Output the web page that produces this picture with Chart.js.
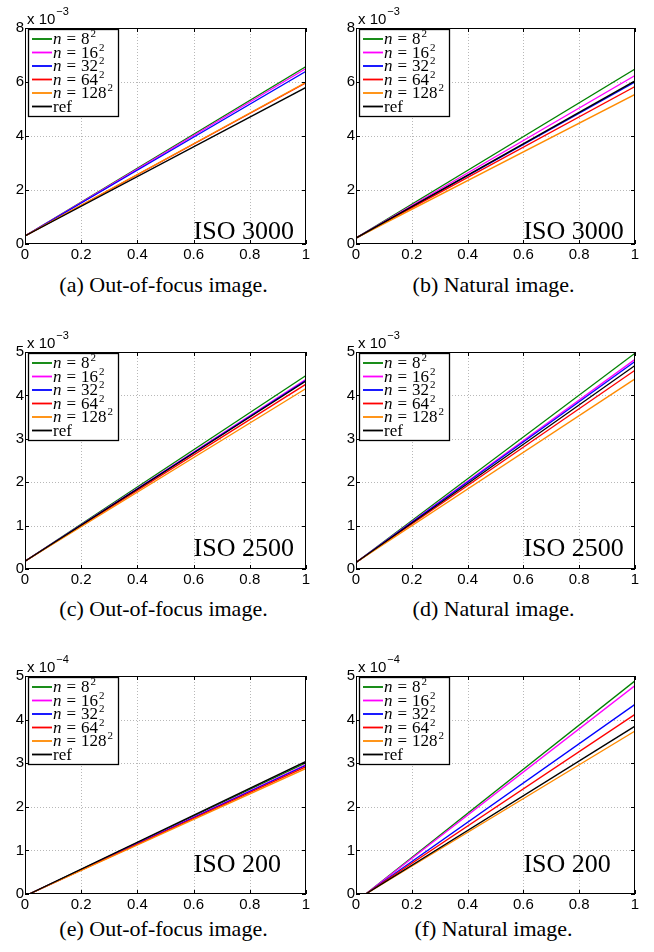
<!DOCTYPE html>
<html>
<head>
<meta charset="utf-8">
<script src="https://cdn.jsdelivr.net/npm/chart.js@4.4.1/dist/chart.umd.min.js"></script>
<style>
  body { margin: 0; background: #fff; }
  #page { position: relative; width: 654px; height: 952px; overflow: hidden; }
  .panel { position: absolute; }
  .cap { position: absolute; width: 300px; text-align: center; color: #000;
         font: 22px "Liberation Serif", "Times New Roman", serif; line-height: 22px; white-space: nowrap; }
</style>
</head>
<body>
<div id="page"></div>
<script>
// legend entries (n = k^2) and the reference curve
const blockSizes = ['8', '16', '32', '64', '128', 'ref'];
const lineColors = ['#008000', '#ff00ff', '#0000ff', '#ff0000', '#ff8a00', '#000000'];

const captions = ['(a) Out-of-focus image.', '(b) Natural image.',
                  '(c) Out-of-focus image.', '(d) Natural image.',
                  '(e) Out-of-focus image.', '(f) Natural image.'];
const isoText = ['ISO 3000', 'ISO 3000', 'ISO 2500', 'ISO 2500', 'ISO 200', 'ISO 200'];

// axes
const xTicks = [0, 0.2, 0.4, 0.6, 0.8, 1];
const yMax = [8, 8, 5, 5, 5, 5];
const yStep = [2, 2, 1, 1, 1, 1];
const yExp = [-3, -3, -3, -3, -4, -4];

// every curve starts at (startX, startY) and ends at x = 1 (values in units of 10^yExp)
const startX = [0, 0, 0, 0, 0.015, 0.035];
const startY = [0.30, 0.22, 0.18, 0.15, 0, 0];
const endA = [6.57, 6.50, 6.40, 5.97, 5.99, 5.80];
const endB = [6.48, 6.24, 6.00, 5.83, 5.54, 6.04];
const endC = [4.46, 4.37, 4.35, 4.26, 4.16, 4.33];
const endD = [4.97, 4.83, 4.78, 4.58, 4.38, 4.69];
const endE = [3.01, 2.97, 2.95, 2.92, 2.88, 3.04];
const endF = [4.89, 4.78, 4.35, 4.12, 3.74, 3.85];
const endVals = [endA, endB, endC, endD, endE, endF];

// where the "ISO" text sits, in data coordinates
const isoX = [0.6, 0.6, 0.6, 0.6, 0.6, 0.6];
const isoY = [0.17, 0.19, 0.30, 0.30, 0.51, 0.51];

// page layout
const colLeft = [0, 327];
const yAxisW = [25, 29];
const padRight = [21, 19];
const rowTop = [0, 324, 648];
const plotH = [216, 217, 218];
const capTop = [274, 598, 918];

function line(ctx, x1, y1, x2, y2) {
  ctx.beginPath(); ctx.moveTo(x1, y1); ctx.lineTo(x2, y2); ctx.stroke();
}

const matlabAxes = {
  id: 'matlabAxes',
  beforeDatasetsDraw(chart) {
    const ctx = chart.ctx, a = chart.chartArea, xs = chart.scales.x, ys = chart.scales.y;
    ctx.save();
    ctx.strokeStyle = '#b8b8b8';
    ctx.lineWidth = 1;
    ctx.setLineDash([1, 2]);
    xs.ticks.forEach(t => {
      const px = Math.round(xs.getPixelForValue(t.value)) + 0.5;
      if (px > a.left + 2 && px < a.right - 2) line(ctx, px, a.top, px, a.bottom);
    });
    ys.ticks.forEach(t => {
      const py = Math.round(ys.getPixelForValue(t.value)) + 0.5;
      if (py > a.top + 2 && py < a.bottom - 2) line(ctx, a.left, py, a.right, py);
    });
    ctx.restore();
  },
  afterDraw(chart, args, opts) {
    const ctx = chart.ctx, a = chart.chartArea, xs = chart.scales.x, ys = chart.scales.y;
    ctx.save();
    ctx.setLineDash([]);
    ctx.strokeStyle = '#000';
    ctx.lineWidth = 1;
    // box
    ctx.strokeRect(a.left + 0.5, a.top + 0.5, a.right - a.left - 1, a.bottom - a.top - 1);
    // inward ticks on all four sides
    xs.ticks.forEach(t => {
      const px = Math.round(xs.getPixelForValue(t.value)) + 0.5;
      line(ctx, px, a.bottom, px, a.bottom - 4);
      line(ctx, px, a.top, px, a.top + 4);
    });
    ys.ticks.forEach(t => {
      const py = Math.round(ys.getPixelForValue(t.value)) + 0.5;
      line(ctx, a.left, py, a.left + 4, py);
      line(ctx, a.right, py, a.right - 4, py);
    });
    // exponent label
    ctx.fillStyle = '#000';
    ctx.textAlign = 'left';
    ctx.textBaseline = 'alphabetic';
    ctx.font = '15px "Liberation Sans", Arial, sans-serif';
    ctx.fillText('x 10', a.left + 2, a.top - 4);
    const w10 = ctx.measureText('x 10').width;
    ctx.font = '11px "Liberation Sans", Arial, sans-serif';
    ctx.fillText('\u2212' + Math.abs(opts.exp), a.left + 3 + w10, a.top - 13);

    // legend
    const bx = a.left + 3, by = a.top + 1, bw = 90, bh = 87;
    ctx.fillStyle = '#fff';
    ctx.fillRect(bx, by, bw, bh);
    ctx.lineWidth = 1.3;
    ctx.strokeRect(bx + 0.5, by + 0.5, bw, bh);
    chart.data.datasets.forEach((ds, i) => {
      const cy = by + 10 + i * 13.5;
      ctx.strokeStyle = ds.borderColor;
      ctx.lineWidth = 1.8;
      line(ctx, bx + 4, cy, bx + 24, cy);
      ctx.fillStyle = '#000';
      let tx = bx + 25;
      const base = cy + 5;
      if (ds.label === 'ref') {
        ctx.font = '17px "Liberation Serif", serif';
        ctx.fillText('ref', tx, base);
      } else {
        ctx.font = 'italic 17px "Liberation Serif", serif';
        ctx.fillText('n', tx, base);
        tx += ctx.measureText('n').width + 5;
        ctx.font = '17px "Liberation Serif", serif';
        ctx.fillText('=', tx, base);
        tx += ctx.measureText('=').width + 5;
        ctx.fillText(ds.label, tx, base);
        tx += ctx.measureText(ds.label).width + 1;
        ctx.font = '11px "Liberation Serif", serif';
        ctx.fillText('2', tx, base - 7);
      }
    });

    // ISO annotation
    ctx.fillStyle = '#000';
    ctx.font = '26px "Liberation Serif", "Times New Roman", serif';
    ctx.fillText(opts.iso, xs.getPixelForValue(opts.isoX), ys.getPixelForValue(opts.isoY));
    ctx.restore();
  }
};

const page = document.getElementById('page');

for (let p = 0; p < 6; p++) {
  const col = p % 2, row = Math.floor(p / 2);
  const w = 327, h = 28 + plotH[row] + 22;
  const holder = document.createElement('div');
  holder.className = 'panel';
  holder.style.left = colLeft[col] + 'px';
  holder.style.top = rowTop[row] + 'px';
  const cv = document.createElement('canvas');
  cv.width = w; cv.height = h;
  cv.style.width = w + 'px'; cv.style.height = h + 'px';
  holder.appendChild(cv);
  page.appendChild(holder);

  const datasets = blockSizes.map((b, s) => ({
    label: b,
    data: [{ x: startX[p], y: startY[p] }, { x: 1, y: endVals[p][s] }],
    borderColor: lineColors[s],
    borderWidth: 1.3,
    pointRadius: 0,
    tension: 0,
    order: blockSizes.length - s
  }));

  new Chart(cv, {
    type: 'line',
    data: { datasets },
    options: {
      responsive: false,
      animation: false,
      devicePixelRatio: 1,
      layout: { padding: { left: 0, right: padRight[col], top: 28, bottom: 0 } },
      plugins: {
        legend: { display: false },
        tooltip: { enabled: false },
        matlabAxes: { exp: yExp[p], iso: isoText[p], isoX: isoX[p], isoY: isoY[p] }
      },
      scales: {
        x: {
          type: 'linear', min: xTicks[0], max: xTicks[xTicks.length - 1],
          afterBuildTicks: s => { s.ticks = xTicks.map(v => ({ value: v })); },
          afterFit: s => { s.height = 22; },
          grid: { display: false, drawTicks: false },
          border: { display: false },
          ticks: {
            padding: 2, autoSkip: false, maxRotation: 0, color: '#000',
            font: { family: '"Liberation Sans", Arial, sans-serif', size: 15 },
            callback: v => String(Math.round(v * 10) / 10)
          }
        },
        y: {
          type: 'linear', min: 0, max: yMax[p],
          ticks: {
            stepSize: yStep[p], padding: 1, autoSkip: false, color: '#000',
            font: { family: '"Liberation Sans", Arial, sans-serif', size: 15 },
            callback: v => String(Math.round(v))
          },
          afterFit: s => { s.width = yAxisW[col]; },
          grid: { display: false, drawTicks: false },
          border: { display: false }
        }
      }
    },
    plugins: [matlabAxes]
  });

  const cap = document.createElement('div');
  cap.className = 'cap';
  cap.textContent = captions[p];
  const chartCenter = colLeft[col] + yAxisW[col] + (w - yAxisW[col] - padRight[col]) / 2;
  cap.style.left = (chartCenter - 2 - 150) + 'px';
  cap.style.top = capTop[row] + 'px';
  page.appendChild(cap);
}
</script>
</body>
</html>
